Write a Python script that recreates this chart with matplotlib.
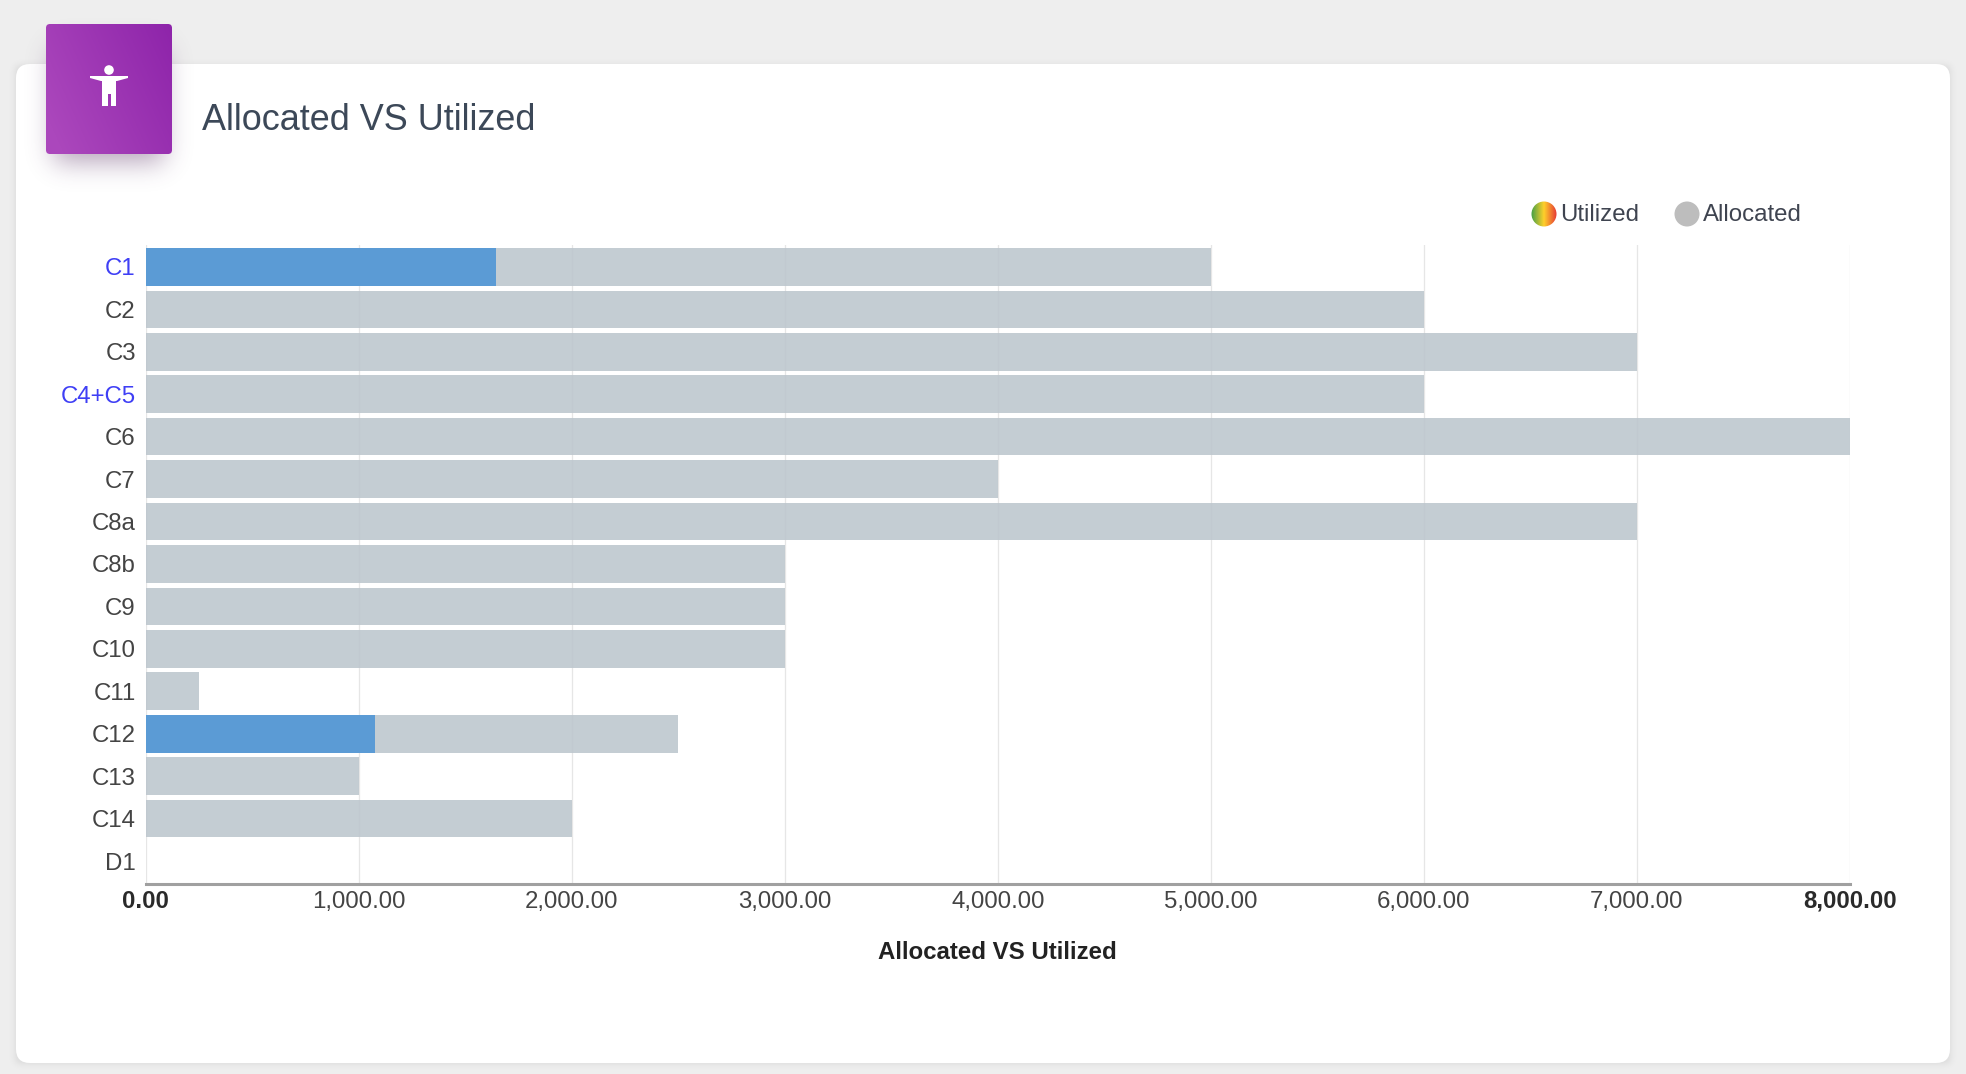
import numpy as np
import matplotlib
matplotlib.use('Agg')
import matplotlib.pyplot as plt
from matplotlib.colors import LinearSegmentedColormap
from matplotlib.patches import FancyBboxPatch, Circle, Rectangle, Polygon
from matplotlib.transforms import ScaledTranslation

plt.rcParams['font.family'] = ['Liberation Sans', 'DejaVu Sans']

categories = ['C1', 'C2', 'C3', 'C4+C5', 'C6', 'C7', 'C8a', 'C8b', 'C9', 'C10', 'C11', 'C12', 'C13', 'C14', 'D1']
allocated = [5000, 6000, 7000, 6000, 8000, 4000, 7000, 3000, 3000, 3000, 250, 2500, 1000, 2000, 0]
utilized = [1647, 0, 0, 0, 0, 0, 0, 0, 0, 0, 0, 1076, 0, 0, 0]
linked = ['C1', 'C4+C5']
xticks = [0, 1000, 2000, 3000, 4000, 5000, 6000, 7000, 8000]

W, H = 1966, 1074
TITLE = 'Allocated VS Utilized'


def soft_box(x0, x1, y0, y1, blur, rgb, strength, bg):
    # blurred rectangle used as a css style box shadow
    pad = int(blur * 3)
    xs = np.arange(x0 - pad, x1 + pad)
    ys = np.arange(y0 - pad, y1 + pad)
    kernel = np.exp(-np.arange(-pad, pad + 1) ** 2 / (2.0 * blur ** 2))
    kernel = kernel / kernel.sum()
    mx = np.convolve(((xs >= x0) & (xs < x1)).astype(float), kernel, mode='same')
    my = np.convolve(((ys >= y0) & (ys < y1)).astype(float), kernel, mode='same')
    img = np.zeros((len(ys), len(xs), 4))
    img[..., :3] = rgb
    img[..., 3] = np.outer(my, mx) * strength
    bg.imshow(img, extent=(xs[0], xs[-1] + 1, ys[-1] + 1, ys[0]), zorder=bg_z(), interpolation='bilinear')


z_now = [1]


def bg_z():
    z_now[0] += 1
    return z_now[0]


fig = plt.figure(figsize=(W / 100, H / 100), dpi=100, facecolor='#eeeeee')

# page layer in pixel coordinates
bg = fig.add_axes([0, 0, 1, 1], zorder=0)
bg.set_axis_off()

soft_box(16, 1950, 66, 1063, 4, (0, 0, 0), 0.10, bg)
card = FancyBboxPatch((16 + 10, 64 + 10), 1934 - 20, 999 - 20, boxstyle='round,pad=10,rounding_size=14',
                      fc='white', ec='none', zorder=bg_z())
bg.add_patch(card)

# icon box
soft_box(54, 164, 48, 162, 13, (0.36, 0.20, 0.40), 0.45, bg)
gx, gy = np.meshgrid(np.linspace(0, 1, 126), np.linspace(0, 1, 130))
icon_cmap = LinearSegmentedColormap.from_list('icon', ['#8e24aa', '#ab47bc'])
grad = np.clip((1 - gx) * 0.75 + gy * 0.35, 0, 1)
im = bg.imshow(grad, cmap=icon_cmap, vmin=0, vmax=1, extent=(46, 172, 154, 24), zorder=bg_z())
clip = FancyBboxPatch((50, 28), 118, 122, boxstyle='round,pad=4,rounding_size=4', transform=bg.transData, fc='none', ec='none')
bg.add_patch(clip)
im.set_clip_path(clip)

# person glyph
z = bg_z()
bg.add_patch(Circle((109, 70), 4.8, fc='white', ec='none', zorder=z))
bg.add_patch(Polygon([(90, 76), (128, 76), (128, 78), (117, 81), (101, 81), (90, 78)], fc='white', ec='none', zorder=z))
bg.add_patch(Rectangle((102, 80), 14, 14, fc='white', ec='none', zorder=z))
bg.add_patch(Rectangle((102, 94), 5.5, 12, fc='white', ec='none', zorder=z))
bg.add_patch(Rectangle((110.5, 94), 5.5, 12, fc='white', ec='none', zorder=z))

bg.text(202, 120.5, TITLE, fontsize=25.9, color='#3c4858', va='center', ha='left', zorder=bg_z())

# legend
leg_cmap = LinearSegmentedColormap.from_list('leg', ['#43a047', '#ffd02a', '#e53935'])
z = bg_z()
leg_im = bg.imshow(np.linspace(0, 1, 50).reshape(1, -1), cmap=leg_cmap, extent=(1531, 1557, 227, 201), zorder=z)
leg_clip = Circle((1544, 214), 12.5, transform=bg.transData, fc='none', ec='none')
bg.add_patch(leg_clip)
leg_im.set_clip_path(leg_clip)
bg.add_patch(Circle((1687, 214), 12.5, fc='#bdbdbd', ec='none', zorder=z))
bg.text(1560, 215, 'Utilized', fontsize=17.3, color='#3f4450', va='center', ha='left', zorder=z)
bg.text(1703, 215, 'Allocated', fontsize=17.3, color='#3f4450', va='center', ha='left', zorder=z)

bg.set_xlim(0, W)
bg.set_ylim(H, 0)
bg.set_aspect('auto')

# chart
ax = fig.add_axes([145.5 / W, 1 - 883.5 / H, (1850 - 145.5) / W, (883.5 - 245) / H], zorder=1)
ax.patch.set_alpha(0)
pos = np.arange(len(categories))

ax.set_axisbelow(True)
ax.grid(axis='x', color='#e6e6e6', lw=0.9)
ax.barh(pos, allocated, height=0.886, color='#bcc6cd', alpha=0.88, zorder=2)
ax.barh(pos, utilized, height=0.886, color='#5b9bd5', zorder=3)

ax.set_xlim(0, 8000)
ax.set_ylim(14.53, -0.518)
ax.set_yticks(pos)
ax.set_yticklabels(categories, fontsize=17.3, color='#444444')
up = ScaledTranslation(0, 2.0 / 100, fig.dpi_scale_trans)
for lab in ax.get_yticklabels():
    lab.set_transform(lab.get_transform() + up)
    if lab.get_text() in linked:
        lab.set_color('#3f3ff5')
ax.set_xticks(xticks)
ax.set_xticklabels(['{:,.2f}'.format(v) for v in xticks], fontsize=17.3, color='#444444')
ax.tick_params(axis='both', length=0)
ax.tick_params(axis='y', pad=7)
ax.tick_params(axis='x', pad=17.6)
# baseline so bold and regular labels sit on one line
for lab in ax.get_xticklabels():
    lab.set_verticalalignment('baseline')
for lab in [ax.get_xticklabels()[0], ax.get_xticklabels()[-1]]:
    lab.set_fontweight('bold')
    lab.set_color('#2a2a2a')
ax.set_xlabel(TITLE, fontsize=17.3, fontweight='bold', color='#222222', labelpad=20)

for side in ['top', 'left', 'right']:
    ax.spines[side].set_visible(False)
ax.spines['bottom'].set_color('#a0a0a0')
ax.spines['bottom'].set_linewidth(2.2)

fig.savefig('out.png', dpi=100, facecolor=fig.get_facecolor())
